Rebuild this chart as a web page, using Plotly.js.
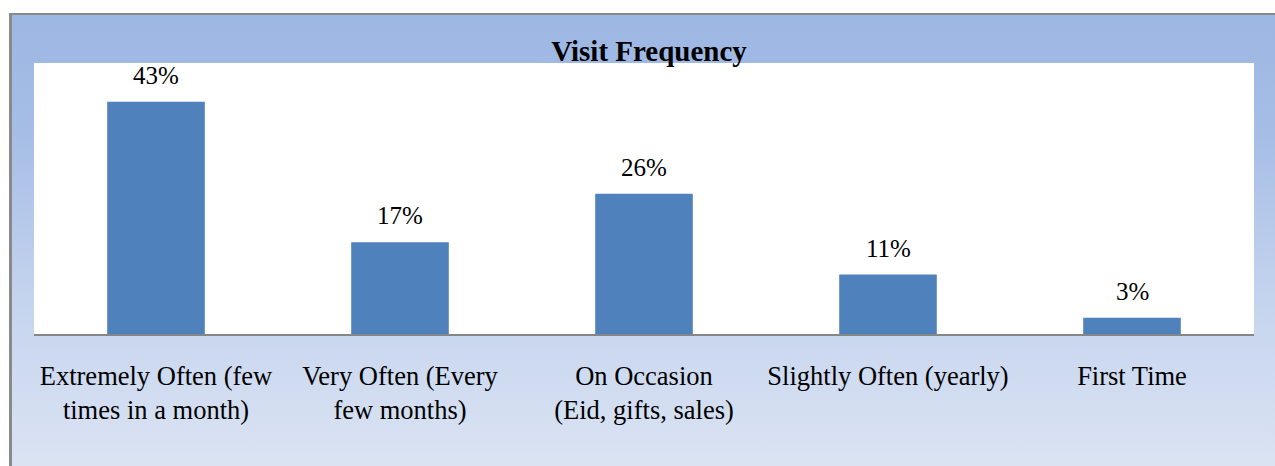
<!DOCTYPE html>
<html>
<head>
<meta charset="utf-8">
<script src="https://cdn.plot.ly/plotly-3.0.1.min.js"></script>
<style>
html,body{margin:0;padding:0;background:#ffffff;width:1275px;height:466px;overflow:hidden;}
#frame{position:absolute;left:9px;top:13px;width:1300px;height:480px;
  border-left:3px solid #8a8a8a;border-top:2px solid #8a8a8a;
  background:linear-gradient(to bottom,#9db7e3 0%,#a6bee6 25%,#c5d4ee 60%,#dfe6f4 100%);}
#chart{position:absolute;left:0;top:0;width:1275px;height:466px;}
</style>
</head>
<body>
<div id="frame"></div>
<div id="chart"></div>
<script>
var categories = [
  "Extremely Often (few<br>times in a month)",
  "Very Often (Every<br>few months)",
  "On Occasion<br>(Eid, gifts, sales)",
  "Slightly Often (yearly)",
  "First Time"
];
var values = [43, 17, 26, 11, 3];
var valueLabels = ["43%", "17%", "26%", "11%", "3%"];

var trace = {
  type: "bar",
  x: categories,
  y: values,
  marker: {color: "#4f81bd"},
  hoverinfo: "none"
};

var annotations = categories.map(function(c, i){
  return {
    x: c, y: values[i], xref: "x", yref: "y",
    text: valueLabels[i], showarrow: false,
    yanchor: "bottom", yshift: 11,
    font: {family: "Liberation Serif, Times New Roman, serif", size: 25, color: "#000000"}
  };
});

var layout = {
  width: 1275, height: 466,
  margin: {l: 34, r: 21, t: 63, b: 132, pad: 0},
  paper_bgcolor: "rgba(0,0,0,0)",
  plot_bgcolor: "#ffffff",
  bargap: 0.6,
  showlegend: false,
  title: {
    text: "<b>Visit Frequency</b>",
    font: {family: "Liberation Serif, Times New Roman, serif", size: 29, color: "#000000"},
    x: 649/1275, xref: "container", xanchor: "center",
    y: 1 - 51/466, yref: "container", yanchor: "middle"
  },
  xaxis: {
    showline: true, linecolor: "#868686", linewidth: 2,
    ticks: "outside", ticklen: 17, tickcolor: "rgba(0,0,0,0)",
    tickfont: {family: "Liberation Serif, Times New Roman, serif", size: 26.5, color: "#000000"},
    showgrid: false, zeroline: false, fixedrange: true
  },
  yaxis: {
    range: [0, 50.2], visible: false, showgrid: false, zeroline: false, fixedrange: true
  },
  annotations: annotations
};

Plotly.newPlot("chart", [trace], layout, {staticPlot: true, displayModeBar: false});
</script>
</body>
</html>
